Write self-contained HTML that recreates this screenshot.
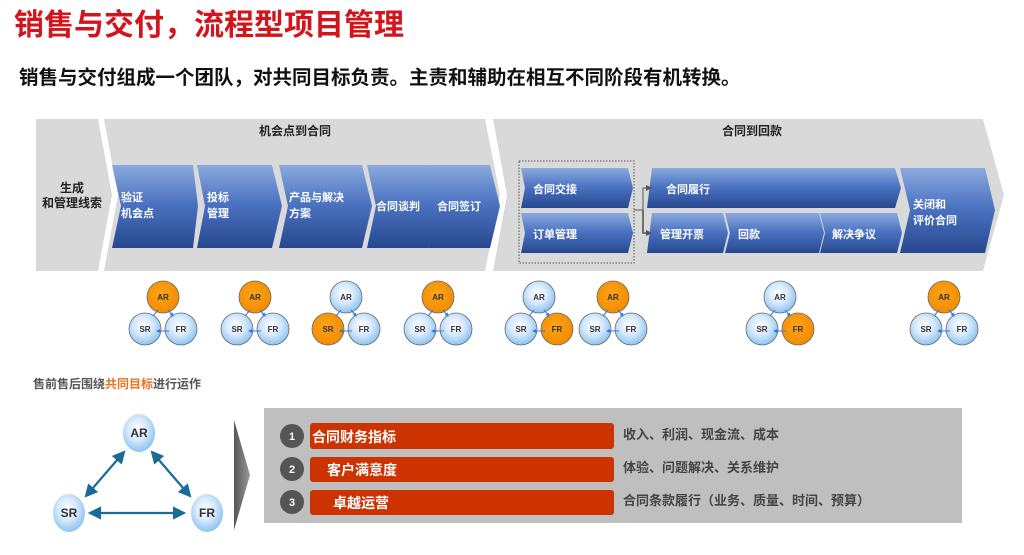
<!DOCTYPE html>
<html><head><meta charset="utf-8"><style>
html,body{margin:0;padding:0;background:#fff;}
svg{display:block;}
text{font-family:"Liberation Sans","Noto Sans CJK SC",sans-serif;font-weight:bold;}
</style></head><body>
<svg width="1024" height="555" viewBox="0 0 1024 555" xmlns="http://www.w3.org/2000/svg">
<defs>
<linearGradient id="bl" x1="0" y1="0" x2="0" y2="1">
<stop offset="0" stop-color="#8aaade"/><stop offset="0.45" stop-color="#4d74c2"/><stop offset="1" stop-color="#27488f"/>
</linearGradient>
<radialGradient id="cb" cx="0.45" cy="0.4" r="0.6">
<stop offset="0" stop-color="#ffffff"/><stop offset="0.5" stop-color="#d6e9fb"/><stop offset="1" stop-color="#8cc3f0"/>
</radialGradient>
<radialGradient id="co" cx="0.45" cy="0.4" r="0.6">
<stop offset="0" stop-color="#ffa31a"/><stop offset="1" stop-color="#f08c00"/>
</radialGradient>
<linearGradient id="ga" x1="0" y1="0" x2="1" y2="0">
<stop offset="0" stop-color="#555"/><stop offset="1" stop-color="#9a9a9a"/>
</linearGradient>
<marker id="ma" markerUnits="userSpaceOnUse" markerWidth="6" markerHeight="6" refX="5" refY="3" orient="auto"><path d="M0,0 L6,3 L0,6Z" fill="#555"/></marker>
<marker id="tb" markerWidth="6" markerHeight="6" refX="5" refY="3" orient="auto-start-reverse"><path d="M0,0 L6,3 L0,6Z" fill="#1a6a9a"/></marker>
<marker id="sb" markerWidth="4" markerHeight="4" refX="3" refY="2" orient="auto-start-reverse"><path d="M0,0 L4,2 L0,4Z" fill="#2f7ae6"/></marker>
</defs>

<text x="14" y="35" font-size="30" fill="#d4141c">销售与交付，流程型项目管理</text>
<text x="19" y="84" font-size="19.5" fill="#111">销售与交付组成一个团队，对共同目标负责。主责和辅助在相互不同阶段有机转换。</text>

<!-- gray band -->
<path d="M36,119 L98,119 L112,195 L98,271 L36,271Z" fill="#d9d9d9"/>
<path d="M104,119 L485,119 L500,195 L485,271 L104,271 L118,195Z" fill="#d9d9d9"/>
<path d="M493,119 L983,119 L1004,195 L983,271 L493,271 L507,195Z" fill="#d9d9d9"/>
<text x="72" y="192" font-size="12" fill="#222" text-anchor="middle">生成</text>
<text x="72" y="207" font-size="12" fill="#222" text-anchor="middle">和管理线索</text>
<text x="295" y="135" font-size="12" fill="#222" text-anchor="middle">机会点到合同</text>
<text x="752" y="135" font-size="12" fill="#222" text-anchor="middle">合同到回款</text>

<!-- blue chevrons -->
<g fill="url(#bl)">
<path d="M112,165 L193,165 L198,206 L193,248 L112,248 L121,206Z"/>
<path d="M197,165 L272,165 L282,206 L272,248 L197,248 L205,206Z"/>
<path d="M279,165 L362,165 L372,206 L362,248 L279,248 L288,206Z"/>
<path d="M367,165 L428,165 L435,206 L428,248 L367,248 L376,206Z"/>
<path d="M428,165 L490,165 L500,206 L490,248 L428,248 L434,206Z"/>
<path d="M521,168 L628,168 L633,188 L628,208 L521,208 L525,188Z"/>
<path d="M521,213 L628,213 L633,233 L628,253 L521,253 L525,233Z"/>
<path d="M652,168 L895,168 L901,188 L895,208 L647,208Z"/>
<path d="M652,213 L723,213 L728,233 L723,253 L647,253Z"/>
<path d="M725,213 L819,213 L824,233 L819,253 L725,253 L730,233Z"/>
<path d="M820,213 L897,213 L902,233 L897,253 L820,253 L825,233Z"/>
<path d="M900,168 L985,168 L995,210 L985,253 L900,253 L910,210Z"/>
</g>
<rect x="519" y="161" width="115" height="102" fill="none" stroke="#555" stroke-width="1" stroke-dasharray="1.5,1.5"/>
<path d="M634,210 L643,210 L643,188 L651,188" fill="none" stroke="#555" stroke-width="1" marker-end="url(#ma)"/>
<path d="M643,210 L643,233 L651,233" fill="none" stroke="#555" stroke-width="1.6" marker-end="url(#ma)"/>

<g font-size="11" fill="#fff">
<text x="121" y="201">验证</text><text x="121" y="217">机会点</text>
<text x="207" y="201">投标</text><text x="207" y="217">管理</text>
<text x="289" y="201">产品与解决</text><text x="289" y="217">方案</text>
<text x="376" y="210">合同谈判</text>
<text x="437" y="210">合同签订</text>
<text x="533" y="193">合同交接</text>
<text x="533" y="238">订单管理</text>
<text x="666" y="193">合同履行</text>
<text x="660" y="238">管理开票</text>
<text x="738" y="238">回款</text>
<text x="832" y="238">解决争议</text>
<text x="913" y="208">关闭和</text><text x="913" y="224">评价合同</text>
</g>

<!-- triads -->
<g stroke="#6a6a6a" stroke-width="0.8">
<g transform="translate(163,0)"><circle cx="0" cy="297" r="16" fill="url(#co)"/><circle cx="-18" cy="329" r="16" fill="url(#cb)"/><circle cx="18" cy="329" r="16" fill="url(#cb)"/></g>
<g transform="translate(255,0)"><circle cx="0" cy="297" r="16" fill="url(#co)"/><circle cx="-18" cy="329" r="16" fill="url(#cb)"/><circle cx="18" cy="329" r="16" fill="url(#cb)"/></g>
<g transform="translate(346,0)"><circle cx="0" cy="297" r="16" fill="url(#cb)"/><circle cx="-18" cy="329" r="16" fill="url(#co)"/><circle cx="18" cy="329" r="16" fill="url(#cb)"/></g>
<g transform="translate(438,0)"><circle cx="0" cy="297" r="16" fill="url(#co)"/><circle cx="-18" cy="329" r="16" fill="url(#cb)"/><circle cx="18" cy="329" r="16" fill="url(#cb)"/></g>
<g transform="translate(539,0)"><circle cx="0" cy="297" r="16" fill="url(#cb)"/><circle cx="-18" cy="329" r="16" fill="url(#cb)"/><circle cx="18" cy="329" r="16" fill="url(#co)"/></g>
<g transform="translate(613,0)"><circle cx="0" cy="297" r="16" fill="url(#co)"/><circle cx="-18" cy="329" r="16" fill="url(#cb)"/><circle cx="18" cy="329" r="16" fill="url(#cb)"/></g>
<g transform="translate(780,0)"><circle cx="0" cy="297" r="16" fill="url(#cb)"/><circle cx="-18" cy="329" r="16" fill="url(#cb)"/><circle cx="18" cy="329" r="16" fill="url(#co)"/></g>
<g transform="translate(944,0)"><circle cx="0" cy="297" r="16" fill="url(#co)"/><circle cx="-18" cy="329" r="16" fill="url(#cb)"/><circle cx="18" cy="329" r="16" fill="url(#cb)"/></g>
</g>
<g stroke="#2f7ae6" stroke-width="1" fill="none">
<path d="M157,331 L169,331 M158,310 L153,316 M168,310 L173,316" marker-start="url(#sb)" marker-end="url(#sb)"/>
<path d="M249,331 L261,331 M250,310 L245,316 M260,310 L265,316" marker-start="url(#sb)" marker-end="url(#sb)"/>
<path d="M340,331 L352,331 M341,310 L336,316 M351,310 L356,316" marker-start="url(#sb)" marker-end="url(#sb)"/>
<path d="M432,331 L444,331 M433,310 L428,316 M443,310 L448,316" marker-start="url(#sb)" marker-end="url(#sb)"/>
<path d="M533,331 L545,331 M534,310 L529,316 M544,310 L549,316" marker-start="url(#sb)" marker-end="url(#sb)"/>
<path d="M607,331 L619,331 M608,310 L603,316 M618,310 L623,316" marker-start="url(#sb)" marker-end="url(#sb)"/>
<path d="M774,331 L786,331 M775,310 L770,316 M785,310 L790,316" marker-start="url(#sb)" marker-end="url(#sb)"/>
<path d="M938,331 L950,331 M939,310 L934,316 M949,310 L954,316" marker-start="url(#sb)" marker-end="url(#sb)"/>
</g>
<g font-size="8" fill="#333" text-anchor="middle">
<text x="163" y="300">AR</text><text x="145" y="332">SR</text><text x="181" y="332">FR</text>
<text x="255" y="300">AR</text><text x="237" y="332">SR</text><text x="273" y="332">FR</text>
<text x="346" y="300">AR</text><text x="328" y="332">SR</text><text x="364" y="332">FR</text>
<text x="438" y="300">AR</text><text x="420" y="332">SR</text><text x="456" y="332">FR</text>
<text x="539" y="300">AR</text><text x="521" y="332">SR</text><text x="557" y="332">FR</text>
<text x="613" y="300">AR</text><text x="595" y="332">SR</text><text x="631" y="332">FR</text>
<text x="780" y="300">AR</text><text x="762" y="332">SR</text><text x="798" y="332">FR</text>
<text x="944" y="300">AR</text><text x="926" y="332">SR</text><text x="962" y="332">FR</text>
</g>

<!-- bottom left -->
<text x="33" y="388" font-size="12" fill="#555">售前售后围绕<tspan fill="#f07020">共同目标</tspan>进行运作</text>
<g stroke="#1a6a9a" stroke-width="2.2" fill="none">
<line x1="124" y1="452" x2="86" y2="496" marker-start="url(#tb)" marker-end="url(#tb)"/>
<line x1="152" y1="452" x2="190" y2="496" marker-start="url(#tb)" marker-end="url(#tb)"/>
<line x1="90" y1="513" x2="184" y2="513" marker-start="url(#tb)" marker-end="url(#tb)"/>
</g>
<ellipse cx="139" cy="433" rx="16" ry="19" fill="url(#cb)"/>
<ellipse cx="69" cy="513" rx="16" ry="19" fill="url(#cb)"/>
<ellipse cx="207" cy="513" rx="16" ry="19" fill="url(#cb)"/>
<g font-size="12" fill="#333" text-anchor="middle">
<text x="139" y="437">AR</text><text x="69" y="517">SR</text><text x="207" y="517">FR</text>
</g>
<path d="M234,420 L250,475 L234,530Z" fill="url(#ga)"/>

<!-- bottom box -->
<rect x="264" y="408" width="698" height="115" fill="#bfbfbf"/>
<g fill="#cc3300">
<rect x="310" y="423" width="304" height="26" rx="3"/>
<rect x="310" y="457" width="304" height="25" rx="3"/>
<rect x="310" y="490" width="304" height="25" rx="3"/>
</g>
<g fill="#555"><circle cx="292" cy="436" r="12"/><circle cx="292" cy="469" r="12"/><circle cx="292" cy="502" r="12"/></g>
<g font-size="11" fill="#fff" text-anchor="middle"><text x="292" y="440">1</text><text x="292" y="473">2</text><text x="292" y="506">3</text></g>
<g font-size="14" fill="#fff">
<text x="312" y="442">合同财务指标</text>
<text x="327" y="475">客户满意度</text>
<text x="333" y="508">卓越运营</text>
</g>
<g font-size="13" fill="#444">
<text x="623" y="439">收入、利润、现金流、成本</text>
<text x="623" y="472">体验、问题解决、关系维护</text>
<text x="623" y="505">合同条款履行（业务、质量、时间、预算）</text>
</g>
</svg>
</body></html>
